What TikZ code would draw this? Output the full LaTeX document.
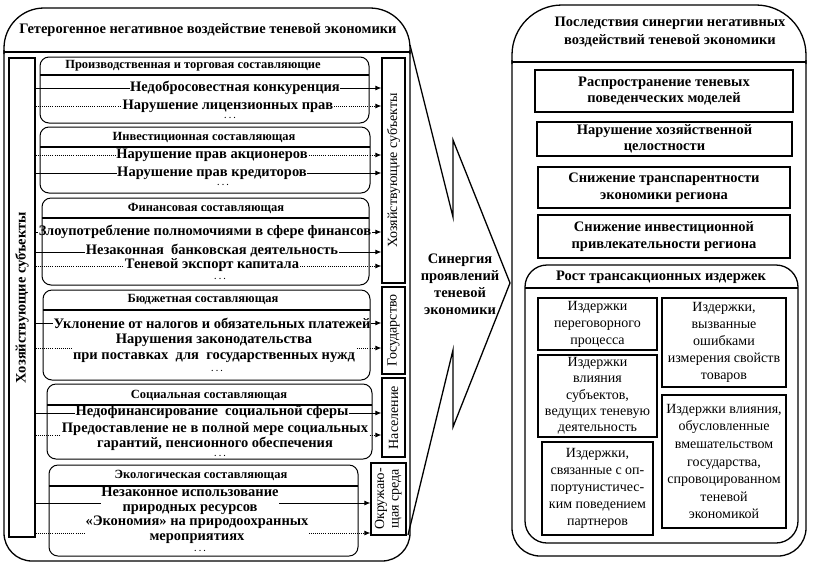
\documentclass[tikz,border=0pt]{standalone}
\usepackage{fontspec}
\setmainfont{Liberation Serif}
\usepackage{graphicx}
\usetikzlibrary{arrows.meta}
\begin{document}
\begin{tikzpicture}[x=1pt,y=-1pt,
  bf/.style={font=\bfseries\fontsize{14.5}{16.5}\selectfont},
  bft/.style={font=\bfseries\fontsize{14.5}{15}\selectfont},
  rg/.style={font=\fontsize{14}{17}\selectfont},
  hd/.style={font=\bfseries\fontsize{12.5}{14}\selectfont},
  txt/.style={bf, fill=white, inner sep=0.6pt, align=center},
  dots/.style={font=\bfseries\fontsize{8}{9}\selectfont, inner sep=0pt},
  frame/.style={line width=1.3pt},
  ibox/.style={line width=1pt, rounded corners=9pt},
  sep/.style={line width=1.2pt},
  strip/.style={draw, line width=1.3pt, inner sep=0pt, rg},
  rbox/.style={draw, line width=1.4pt, inner sep=1pt, align=center, bf},
  tbox/.style={draw, line width=1.4pt, inner sep=0.5pt, align=center, rg},
  conn/.style={-{Latex[length=6pt,width=5pt]}, line width=0.8pt},
  dconn/.style={conn, dash pattern=on 0.8pt off 1.3pt},
]
\useasboundingbox (0,0) rectangle (813,566);

% ---------- left frame ----------
\draw[frame, rounded corners=40pt] (4,54) -- (4,8) -- (410,8) -- (410,54);
\draw[frame, rounded corners=28pt] (4,50) -- (4,561) -- (410,561) -- (410,50);
\draw[frame] (4,52) -- (410,52);
\node[bf] (h0) at (208,30) {Гетерогенное негативное воздействие теневой экономики};

% left vertical box
\node[draw, frame, minimum width=26pt, minimum height=479pt, inner sep=0pt] (L) at (22,297.5)
  {\rotatebox{90}{\bfseries\fontsize{14.5}{16.5}\selectfont Хозяйствующие субъекты}};

% right strips
\node[strip, minimum width=23pt, minimum height=225pt] (S1) at (393.5,170.5) {\rotatebox{90}{Хозяйствующие субъекты}};
\node[strip, minimum width=23pt, minimum height=87pt] (S2) at (393.5,330.5) {\rotatebox{90}{Государство}};
\node[strip, minimum width=23pt, minimum height=79pt] (S3) at (393.5,417.5) {\rotatebox{90}{Население}};
\node[strip, minimum width=35pt, minimum height=72pt] (S4) at (388.5,499)
  {\rotatebox{90}{\renewcommand\arraystretch{0.85}\begin{tabular}{@{}c@{}}Окружаю-\\щая среда\end{tabular}}};

% connectors
\foreach \yy/\tgt/\sty in {88/S1/conn, 106/S1/dconn, 155/S1/dconn, 173/S1/conn,
  232/S1/conn, 252/S1/conn, 266/S1/dconn, 323/S2/conn, 348/S2/dconn,
  413/S3/conn, 435/S3/dconn, 503/S4/conn, 533/S4/dconn}{
  \coordinate (hh) at (0,\yy);
  \draw[\sty] (L.east |- hh) -- (\tgt.west |- hh);
}

% texts of the components
\node[txt] (t11) at (235,88) {Недобросовестная конкуренция};
\node[txt] (t12) at (228,106) {Нарушение лицензионных прав};
\node[dots] (d1) at (230,118) {. . .};

\node[txt] (t21) at (212,155) {Нарушение прав акционеров};
\node[txt] (t22) at (212,173) {Нарушение прав кредиторов};
\node[dots] (d2) at (223,185) {. . .};

\node[txt] (t31) at (205,232) {Злоупотребление полномочиями в сфере финансов};
\node[txt] (t32) at (212,251) {Незаконная\ \ банковская деятельность};
\node[txt] (t33) at (212,265.5) {Теневой экспорт капитала};
\node[dots] (d3) at (220,279) {. . .};

\node[txt] (t41) at (212,323) {Уклонение от налогов и обязательных платежей};
\node[txt] (t42) at (214,348.5) {Нарушения законодательства\\при поставках\ \ для\ \ государственных нужд};
\node[dots] (d4) at (217,371) {. . .};

\node[txt] (t51) at (212,412) {Недофинансирование\ \ социальной сферы};
\node[txt, bft] (t52) at (215,436.5) {Предоставление не в полной мере социальных\\гарантий, пенсионного обеспечения};
\node[dots] (d5) at (220,456) {. . .};

\node[txt, bft] (t61) at (190,500.5) {Незаконное использование\\природных ресурсов};
\node[txt, bft] (t62) at (197,530) {«Экономия» на природоохранных\\мероприятиях};
\node[dots] (d6) at (200,551) {. . .};

% component boxes (on top)
\draw[ibox] (40,57) rectangle (369,123);   \draw[sep] (40,75) -- (369,75);
\draw[ibox] (40,127) rectangle (370,193);  \draw[sep] (40,147) -- (370,147);
\draw[ibox] (42,198) rectangle (369,285);  \draw[sep] (42,218) -- (369,218);
\draw[ibox] (43,290) rectangle (370,380);  \draw[sep] (43,310) -- (370,310);
\draw[ibox] (47,384) rectangle (372,459);  \draw[sep] (47,405) -- (372,405);
\draw[ibox] (49,465) rectangle (358,556);  \draw[sep] (49,486) -- (358,486);

\node[hd] (b1) at (193,66) {Производственная и торговая составляющие};
\node[hd] (b2) at (204,137) {Инвестиционная составляющая};
\node[hd] (b3) at (206,208) {Финансовая составляющая};
\node[hd] (b4) at (203,299) {Бюджетная составляющая};
\node[hd] (b5) at (209,395) {Социальная составляющая};
\node[hd] (b6) at (201,475) {Экологическая составляющая};

% ---------- big arrow ----------
\draw[frame] (410,45) -- (453,217) -- (453,140) -- (510,283) -- (453,427) -- (453,350) -- (408,535);
\node[bf, align=center, font=\bfseries\fontsize{14.5}{17}\selectfont] (syn) at (460,284) {Синергия\\проявлений\\теневой\\экономики};

% ---------- right frame ----------
\draw[frame, rounded corners=50pt] (512,64) -- (512,5) -- (806,5) -- (806,64);
\draw[frame, rounded corners=28pt] (512,60) -- (512,556) -- (806,556) -- (806,60);
\draw[frame] (512,62) -- (806,62);
\node[bf, align=center, font=\bfseries\fontsize{14.5}{18}\selectfont] (h1) at (670,32) {Последствия синергии негативных\\воздействий теневой экономики};

\node[rbox, minimum width=258pt, minimum height=42pt] (r1) at (664,91) {Распространение теневых\\поведенческих моделей};
\node[rbox, minimum width=255pt, minimum height=34pt] (r2) at (664.5,139) {Нарушение хозяйственной\\целостности};
\node[rbox, minimum width=252pt, minimum height=41pt] (r3) at (664,187.5) {Снижение транспарентности\\экономики региона};
\node[rbox, minimum width=252pt, minimum height=43pt] (r4) at (664,236.5) {Снижение инвестиционной\\привлекательности региона};

\draw[frame, rounded corners=22pt] (525,265) rectangle (798,543);
\draw[frame] (525,288) -- (798,288);
\node[bf] (h2) at (661,277) {Рост трансакционных издержек};

\node[tbox, minimum width=119pt, minimum height=52pt] (k1) at (597.5,324) {Издержки\\переговорного\\процесса};
\node[tbox, minimum width=119pt, minimum height=82pt, font=\fontsize{14}{16.3}\selectfont] (k2) at (597.5,396) {Издержки\\влияния\\субъектов,\\ведущих теневую\\деятельность};
\node[tbox, minimum width=111pt, minimum height=93pt] (k3) at (597.5,488.5) {Издержки,\\связанные с оп-\\портунистичес-\\ким поведением\\партнеров};
\node[tbox, minimum width=124pt, minimum height=89pt] (k4) at (724,342.5) {Издержки,\\вызванные\\ошибками\\измерения свойств\\товаров};
\node[tbox, minimum width=124pt, minimum height=133pt, font=\fontsize{14}{17.6}\selectfont] (k5) at (724,461.5) {Издержки влияния,\\обусловленные\\вмешательством\\государства,\\спровоцированном\\теневой\\экономикой};
\end{tikzpicture}
\end{document}
